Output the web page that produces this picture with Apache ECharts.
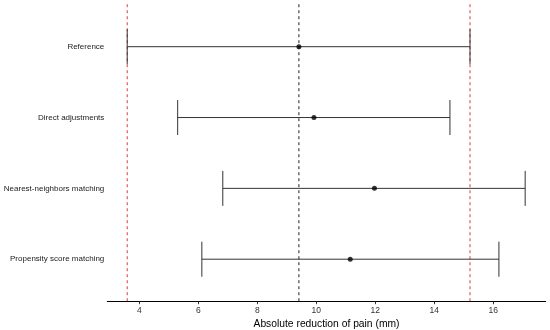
<!DOCTYPE html>
<html>
<head>
<meta charset="utf-8">
<script src="https://cdn.jsdelivr.net/npm/echarts@6/dist/echarts.min.js"></script>
<style>html,body{margin:0;padding:0;background:#fff}#c{width:550px;height:330px}</style>
</head>
<body>
<div id="c"></div>
<script>
const categories = ["Reference", "Direct adjustments", "Nearest-neighbors matching", "Propensity score matching"];
const estimates = [9.41, 9.92, 11.97, 11.15];
const lowerCI = [3.59, 5.30, 6.83, 6.12];
const upperCI = [15.21, 14.53, 17.08, 16.19];
const refLines = [3.59, 9.41, 15.21];
const refLineColors = ["#e03a3a", "#222222", "#e03a3a"];
const xTicks = [4, 6, 8, 10, 12, 14, 16];

const chart = echarts.init(document.getElementById('c'), null, {renderer: 'canvas'});

const barData = categories.map((c, i) => [lowerCI[i], upperCI[i], i + 1]);
const pointData = categories.map((c, i) => [estimates[i], i + 1]);
const refData = refLines.map((v, i) => [v, i]);

chart.setOption({
  animation: false,
  grid: {left: 107.3, right: 4.3, top: 4.2, bottom: 28.3, containLabel: false, outerBoundsMode: 'none'},
  xAxis: {
    type: 'value', min: 2.915, max: 17.776,
    axisLine: {lineStyle: {color: '#000', width: 1}},
    axisTick: {show: true, length: 2.5, customValues: xTicks, lineStyle: {color: '#333'}},
    axisLabel: {customValues: xTicks, fontFamily: 'Liberation Sans', fontSize: 8.5, color: '#333', margin: 4},
    splitLine: {show: false},
    name: 'Absolute reduction of pain (mm)',
    nameLocation: 'middle', nameGap: 15,
    nameTextStyle: {fontFamily: 'Liberation Sans', fontSize: 10.3, color: '#000'}
  },
  yAxis: {
    type: 'value', min: 0.4, max: 4.6, inverse: true,
    axisLine: {show: false}, axisTick: {show: false}, splitLine: {show: false},
    axisLabel: {customValues: [1, 2, 3, 4], formatter: v => categories[Math.round(v) - 1] || '',
      fontFamily: 'Liberation Sans', fontSize: 8, color: '#222', margin: 3}
  },
  series: [
    {
      type: 'custom',
      data: refData,
      renderItem: function (params, api) {
        const x = api.value(0);
        const top = api.coord([x, 0.4]);
        const bot = api.coord([x, 4.6]);
        return {type: 'line', shape: {x1: top[0], y1: top[1], x2: bot[0], y2: bot[1]},
          style: {stroke: refLineColors[api.value(1)], lineWidth: 1, lineDash: [3, 3], fill: null}};
      },
      z: 1
    },
    {
      type: 'custom',
      data: barData,
      renderItem: function (params, api) {
        const y = api.value(2);
        const lo = api.coord([api.value(0), y]);
        const hi = api.coord([api.value(1), y]);
        const h = 17.5;
        const st = {stroke: '#333', lineWidth: 1, fill: null};
        return {type: 'group', children: [
          {type: 'line', shape: {x1: lo[0], y1: lo[1], x2: hi[0], y2: hi[1]}, style: st},
          {type: 'line', shape: {x1: lo[0], y1: lo[1] - h, x2: lo[0], y2: lo[1] + h}, style: st},
          {type: 'line', shape: {x1: hi[0], y1: hi[1] - h, x2: hi[0], y2: hi[1] + h}, style: st}
        ]};
      },
      z: 2
    },
    {
      type: 'scatter', data: pointData, symbolSize: 5,
      itemStyle: {color: '#000'}, z: 5
    }
  ]
});
</script>
</body>
</html>
